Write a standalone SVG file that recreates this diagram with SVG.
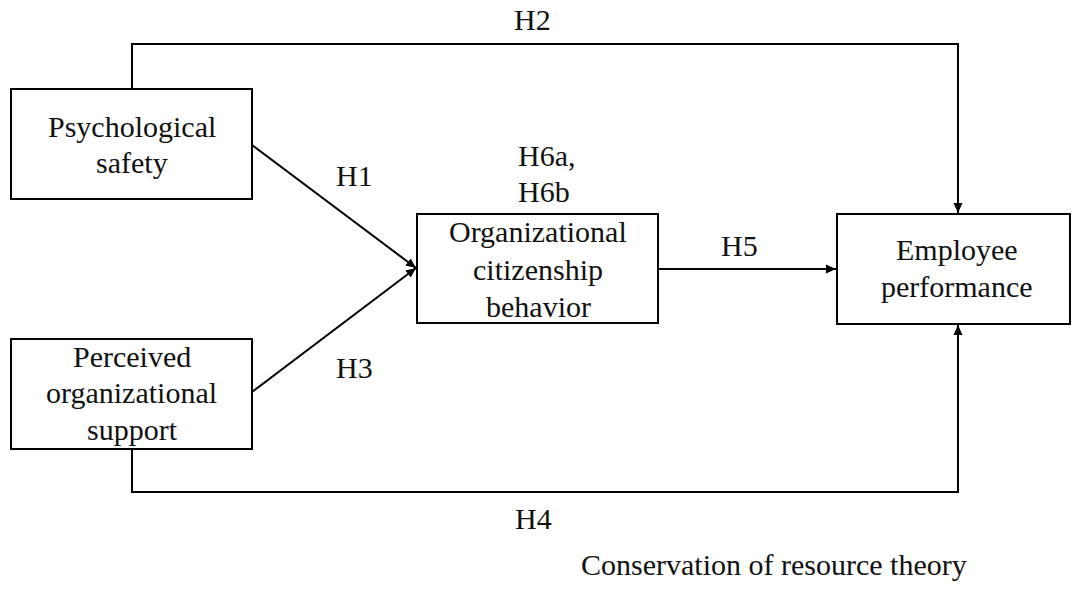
<svg xmlns="http://www.w3.org/2000/svg" width="1072" height="594" viewBox="0 0 1072 594">
<style>
.box{fill:#fff;stroke:#000;stroke-width:2}
.t{font-family:"Liberation Serif","Times New Roman",serif;font-size:30px;fill:#111}
.c{fill:none;stroke:#000;stroke-width:2}
</style>
<defs>
<marker id="ah" viewBox="0 0 10 10" refX="10" refY="5" markerWidth="10" markerHeight="10" markerUnits="userSpaceOnUse" orient="auto">
<path d="M0,0.5 L10,5 L0,9.5 Z" fill="#000"/>
</marker>
</defs>
<rect width="1072" height="594" fill="#fff"/>
<g id="connectors">
<path class="c" d="M132,89 V44 H958 V213" marker-end="url(#ah)"/>
<path class="c" d="M132,449 V492 H958 V325" marker-end="url(#ah)"/>
<path class="c" d="M252,145 L416,268" marker-end="url(#ah)"/>
<path class="c" d="M252,392 L416,268" marker-end="url(#ah)"/>
<path class="c" d="M658,269 H836" marker-end="url(#ah)"/>
</g>
<g id="labels">
<text class="t" x="514" y="30">H2</text>
<text class="t" x="336" y="186">H1</text>
<text class="t" x="336" y="378">H3</text>
<text class="t" x="721" y="256">H5</text>
<text class="t" x="515" y="529">H4</text>
<text class="t" x="518" y="166">H6a,</text>
<text class="t" x="518" y="202">H6b</text>
<text class="t" x="581" y="575">Conservation of resource theory</text>
</g>
<g id="node-ps">
<rect class="box" x="11" y="89" width="241" height="110"/>
<text class="t" x="48" y="137">Psychological</text>
<text class="t" x="96" y="173">safety</text>
</g>
<g id="node-pos">
<rect class="box" x="11" y="339" width="241" height="110"/>
<text class="t" x="73" y="367">Perceived</text>
<text class="t" x="46" y="403">organizational</text>
<text class="t" x="87" y="440">support</text>
</g>
<g id="node-ocb">
<rect class="box" x="417" y="214" width="241" height="109"/>
<text class="t" x="449" y="242">Organizational</text>
<text class="t" x="473" y="280">citizenship</text>
<text class="t" x="486" y="317">behavior</text>
</g>
<g id="node-ep">
<rect class="box" x="837" y="214" width="233" height="110"/>
<text class="t" x="896" y="260">Employee</text>
<text class="t" x="881" y="297">performance</text>
</g>
</svg>
